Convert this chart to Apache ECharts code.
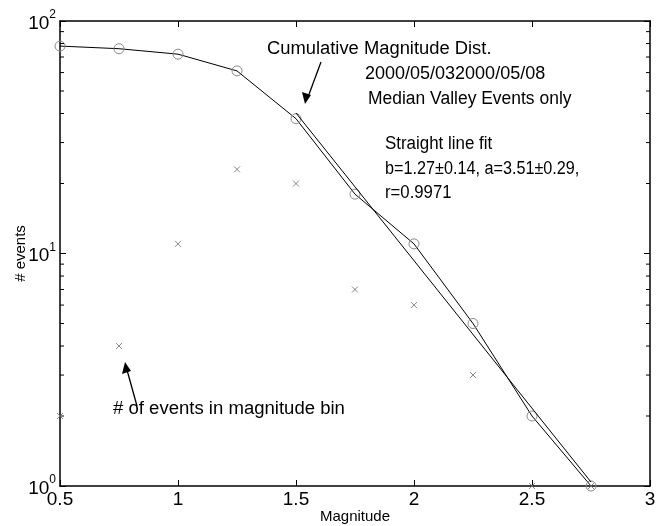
<!DOCTYPE html>
<html>
<head>
<meta charset="utf-8">
<script src="https://cdn.jsdelivr.net/npm/echarts@6/dist/echarts.min.js"></script>
<style>
  html, body { margin: 0; padding: 0; background: #fff; }
  #chart { width: 664px; height: 526px; }
</style>
</head>
<body>
<div id="chart"></div>
<script>
// Magnitude bins
const magnitudes = [0.5, 0.75, 1.0, 1.25, 1.5, 1.75, 2.0, 2.25, 2.5, 2.75];
// Cumulative number of events at or above each magnitude
const cumulativeCounts = [78, 76, 72, 61, 38, 18, 11, 5, 2, 1];
// Number of events in each magnitude bin
const binCounts = [2, 4, 11, 23, 20, 7, 6, 3, 1, 1];
// Straight line fit end points (magnitude, events)
const fitMagnitudes = [1.5, 2.75];
const fitCounts = [40.2, 1.04];
// Axis ticks
const xTicks = [0.5, 1, 1.5, 2, 2.5, 3];
const yMinorTicks = [2, 3, 4, 5, 6, 7, 8, 9, 20, 30, 40, 50, 60, 70, 80, 90];

const FONT = '"Liberation Sans", Arial, Helvetica, sans-serif';

const chart = echarts.init(document.getElementById('chart'), null, { renderer: 'canvas' });

const xBase = {
  type: 'value', min: 0.5, max: 3, interval: 0.5,
  axisLine: { show: true, onZero: false, lineStyle: { color: '#000', width: 1.5 } },
  axisTick: { show: true, inside: true, length: 6, lineStyle: { color: '#000' } },
  splitLine: { show: false }
};
const yBase = {
  type: 'log', logBase: 10, min: 1, max: 100,
  axisLine: { show: true, onZero: false, lineStyle: { color: '#000', width: 1.5 } },
  axisTick: { show: true, inside: true, length: 6, lineStyle: { color: '#000' } },
  splitLine: { show: false }
};

const xMarker = 'path://M0,0L10,10M10,0L0,10';

function note(text, x, y, sx) {
  return {
    type: 'text', x: x, y: y, scaleX: sx || 1,
    style: { text: text, font: '18px ' + FONT, fill: '#000', textVerticalAlign: 'top' }
  };
}

chart.setOption({
  animation: false,
  backgroundColor: '#fff',
  grid: { left: 60, top: 21, width: 590, height: 465, containLabel: false, outerBoundsMode: 'none' },
  xAxis: [
    Object.assign({}, xBase, {
      position: 'bottom',
      name: 'Magnitude', nameLocation: 'middle', nameGap: 23, nameMoveOverlap: false,
      nameTextStyle: { fontFamily: FONT, fontSize: 15, color: '#000' },
      axisLabel: {
        show: true, color: '#000', fontFamily: FONT, fontSize: 19, margin: 4,
        formatter: v => xTicks.includes(v) ? String(v) : ''
      }
    }),
    Object.assign({}, xBase, { position: 'top', axisLabel: { show: false } })
  ],
  yAxis: [
    Object.assign({}, yBase, {
      position: 'left',
      name: '# events', nameLocation: 'middle', nameGap: 32, nameMoveOverlap: false,
      nameTextStyle: { fontFamily: FONT, fontSize: 15, color: '#000' },
      axisLabel: {
        show: true, margin: 4, color: '#000', fontFamily: FONT,
        formatter: v => '{b|10}{s|' + Math.round(Math.log10(v)) + '}',
        rich: {
          b: { fontFamily: FONT, fontSize: 19, color: '#000', verticalAlign: 'bottom' },
          s: { fontFamily: FONT, fontSize: 12, color: '#000', verticalAlign: 'top', padding: [0, 0, 12, 0] }
        }
      }
    }),
    Object.assign({}, yBase, { position: 'right', axisLabel: { show: false } })
  ],
  series: [
    {
      // minor log ticks along left and right edges
      type: 'custom',
      xAxisIndex: 0, yAxisIndex: 0,
      silent: true,
      clip: false,
      data: yMinorTicks.map(v => [0.5, v]),
      renderItem: (params, api) => {
        const v = api.value(1);
        const l = api.coord([0.5, v]);
        const r = api.coord([3, v]);
        return {
          type: 'group',
          children: [
            { type: 'line', shape: { x1: l[0], y1: l[1], x2: l[0] + 4, y2: l[1] }, style: { stroke: '#000', lineWidth: 1 } },
            { type: 'line', shape: { x1: r[0], y1: r[1], x2: r[0] - 4, y2: r[1] }, style: { stroke: '#000', lineWidth: 1 } }
          ]
        };
      },
      z: 5
    },
    {
      name: 'Cumulative',
      type: 'line',
      data: magnitudes.map((m, i) => [m, cumulativeCounts[i]]),
      clip: false,
      symbol: 'circle', symbolSize: 10,
      lineStyle: { color: '#000', width: 1 },
      itemStyle: { color: 'rgba(0,0,0,0)', borderColor: '#8a8a8a', borderWidth: 1 },
      z: 3
    },
    {
      name: 'Fit',
      type: 'line',
      data: fitMagnitudes.map((m, i) => [m, fitCounts[i]]),
      clip: false,
      showSymbol: false, symbol: 'none',
      lineStyle: { color: '#000', width: 1 },
      z: 4
    },
    {
      name: 'Per bin',
      type: 'scatter',
      data: magnitudes.map((m, i) => [m, binCounts[i]]),
      clip: false,
      symbol: xMarker, symbolSize: 6,
      itemStyle: { color: 'rgba(0,0,0,0)', borderColor: '#6a6a6a', borderWidth: 1 },
      z: 6
    }
  ],
  graphic: [
    note('Cumulative Magnitude Dist.', 267, 40, 1.02),
    note('2000/05/032000/05/08', 365, 65, 1.0),
    note('Median Valley Events only', 368, 90, 0.97),
    note('Straight line fit', 385, 135, 0.94),
    note('b=1.27\u00b10.14, a=3.51\u00b10.29,', 385, 160, 0.9),
    note('r=0.9971', 385, 184, 0.93),
    note('# of events in magnitude bin', 113, 400, 1.03),
    // arrow toward the cumulative curve
    { type: 'line', shape: { x1: 321, y1: 62, x2: 308, y2: 97 }, style: { stroke: '#000', lineWidth: 1.3 } },
    { type: 'polygon', shape: { points: [[305, 104], [302, 92], [311, 95]] }, style: { fill: '#000' } },
    // arrow toward the per-bin markers
    { type: 'line', shape: { x1: 137, y1: 406, x2: 127, y2: 370 }, style: { stroke: '#000', lineWidth: 1.3 } },
    { type: 'polygon', shape: { points: [[125, 362], [122, 374], [131, 371]] }, style: { fill: '#000' } }
  ]
});
</script>
</body>
</html>
